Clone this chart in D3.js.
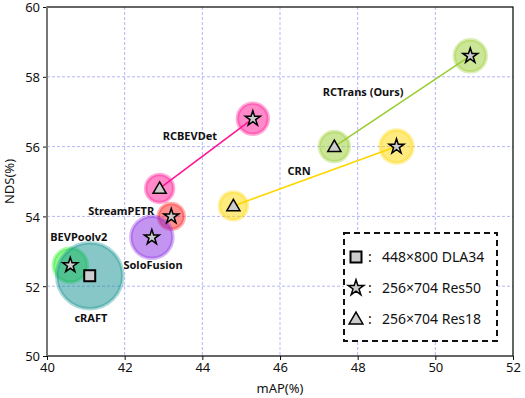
<!DOCTYPE html>
<html><head><meta charset="utf-8">
<script src="https://cdn.jsdelivr.net/npm/d3@7"></script>
<style>body{margin:0;background:#fff}svg{display:block}text{font-family:"Noto Sans","Open Sans",sans-serif}</style>
</head><body><svg id="c" width="525" height="398"></svg>
<script>
// data
const methods = ["RCTrans (Ours)","RCBEVDet","CRN","StreamPETR","SoloFusion","BEVPoolv2","cRAFT"];
const colors = ["#9acd32","#ff1493","#ffd700","#ff2020","#8a2be2","#22ee22","#108f8f"];
const points = [
  {m:0, shape:"triangle", map:47.4, nds:56.0, r:15},
  {m:0, shape:"star", map:50.9, nds:58.6, r:16},
  {m:1, shape:"triangle", map:42.9, nds:54.8, r:14},
  {m:1, shape:"star", map:45.3, nds:56.8, r:15.5},
  {m:2, shape:"triangle", map:44.8, nds:54.3, r:14},
  {m:2, shape:"star", map:49.0, nds:56.0, r:16.5},
  {m:3, shape:"star", map:43.2, nds:54.0, r:13},
  {m:4, shape:"star", map:42.7, nds:53.4, r:21},
  {m:5, shape:"star", map:40.6, nds:52.6, r:17},
  {m:6, shape:"square", map:41.1, nds:52.3, r:33}
];
const labels = [
  {m:0, map:48.14, nds:57.56},
  {m:1, map:43.68, nds:56.30},
  {m:2, map:46.49, nds:55.30},
  {m:3, map:41.91, nds:54.15},
  {m:4, map:42.73, nds:52.61},
  {m:5, map:40.82, nds:53.40},
  {m:6, map:41.13, nds:51.09}
];
const xTicks = [40,42,44,46,48,50,52];
const yTicks = [50,52,54,56,58,60];
const legendItems = [
  {shape:"square", text:"448×800 DLA34"},
  {shape:"star", text:"256×704 Res50"},
  {shape:"triangle", text:"256×704 Res18"}
];

const svg = d3.select("#c");
const L=47,R=513,T=7,B=356;
const x = d3.scaleLinear().domain([40,52]).range([L,R]);
const y = d3.scaleLinear().domain([50,60]).range([B,T]);

// grid
const g = svg.append("g");
g.selectAll(".gx").data(xTicks.slice(1,-1)).join("line")
  .attr("x1",d=>x(d)).attr("x2",d=>x(d)).attr("y1",T).attr("y2",B)
  .attr("stroke","#6666ee").attr("stroke-opacity",0.6).attr("stroke-width",0.8).attr("stroke-dasharray","3,2");
g.selectAll(".gy").data(yTicks.slice(1,-1)).join("line")
  .attr("y1",d=>y(d)).attr("y2",d=>y(d)).attr("x1",L).attr("x2",R)
  .attr("stroke","#6666ee").attr("stroke-opacity",0.6).attr("stroke-width",0.8).attr("stroke-dasharray","3,2");

// axes
const xa = svg.append("g").attr("transform",`translate(0,${B})`).call(d3.axisBottom(x).tickValues(xTicks).tickSize(4).tickPadding(3));
const ya = svg.append("g").attr("transform",`translate(${L},0)`).call(d3.axisLeft(y).tickValues(yTicks).tickSize(4).tickPadding(3));
[xa,ya].forEach(a=>{a.select(".domain").remove();a.selectAll("text").attr("font-size",13).attr("fill","#111").style("font-family","'Noto Sans',sans-serif");a.selectAll("line").attr("stroke","#111");});
ya.selectAll("text").attr("dy","0.38em");
svg.append("rect").attr("x",L).attr("y",T).attr("width",R-L).attr("height",B-T).attr("fill","none").attr("stroke","#000").attr("stroke-width",1.2);
svg.append("line").attr("x1",L).attr("x2",L).attr("y1",T).attr("y2",B).attr("stroke","#777").attr("stroke-width",2);

svg.append("text").attr("x",(L+R)/2).attr("y",393).attr("text-anchor","middle").attr("font-size",13).attr("fill","#111").text("mAP(%)");
svg.append("text").attr("transform",`translate(14,${(T+B)/2}) rotate(-90)`).attr("text-anchor","middle").attr("font-size",13).attr("fill","#111").text("NDS(%)");

// lines
for(let m=0;m<3;m++){
  const ps = points.filter(p=>p.m===m);
  svg.append("line").attr("x1",x(ps[0].map)).attr("y1",y(ps[0].nds)).attr("x2",x(ps[1].map)).attr("y2",y(ps[1].nds))
    .attr("stroke",colors[m]).attr("stroke-width",1.6);
}
// bubbles
svg.selectAll(".b").data(points).join("circle")
  .attr("cx",d=>x(d.map)).attr("cy",d=>y(d.nds)).attr("r",d=>d.r)
  .attr("fill",d=>colors[d.m]).attr("fill-opacity",0.5)
  .attr("stroke",d=>colors[d.m]).attr("stroke-opacity",0.35).attr("stroke-width",3.5);

function marker(sel, shape, s){
  s = s||1;
  if(shape==="star") sel.append("path").attr("d",d3.symbol(d3.symbolStar,70*s)()).attr("fill","#ccc").attr("stroke","#000").attr("stroke-width",1.5);
  else if(shape==="triangle") sel.append("path").attr("d",d3.symbol(d3.symbolTriangle,75*s)()).attr("transform","translate(0,1)").attr("fill","#ccc").attr("stroke","#000").attr("stroke-width",1.5);
  else sel.append("rect").attr("x",-5.5).attr("y",-5.5).attr("width",11).attr("height",11).attr("fill","#ccc").attr("stroke","#000").attr("stroke-width",2);
}
points.forEach(p=>{
  const gg = svg.append("g").attr("transform",`translate(${x(p.map)},${y(p.nds)})`);
  marker(gg,p.shape);
});

// labels
svg.selectAll(".lb").data(labels).join("text")
  .attr("x",d=>x(d.map)).attr("y",d=>y(d.nds)).attr("text-anchor","middle").attr("dy","0.35em")
  .attr("font-size",11).attr("font-weight","bold").attr("fill","#111").text(d=>methods[d.m]);

// legend
svg.append("rect").attr("x",344).attr("y",233).attr("width",153).attr("height",108)
  .attr("fill","#fff").attr("stroke","#111").attr("stroke-width",2).attr("stroke-dasharray","6,4");
legendItems.forEach((it,i)=>{
  const yy = 257 + i*31;
  const gg = svg.append("g").attr("transform",`translate(356,${yy})`);
  marker(gg,it.shape,1.1);
  svg.append("text").attr("x",368).attr("y",yy).attr("dy","0.35em").attr("font-size",14).attr("fill","#111").text(":");
  svg.append("text").attr("x",382).attr("y",yy).attr("dy","0.35em").attr("font-size",14).attr("fill","#111").text(it.text);
});
</script></body></html>
